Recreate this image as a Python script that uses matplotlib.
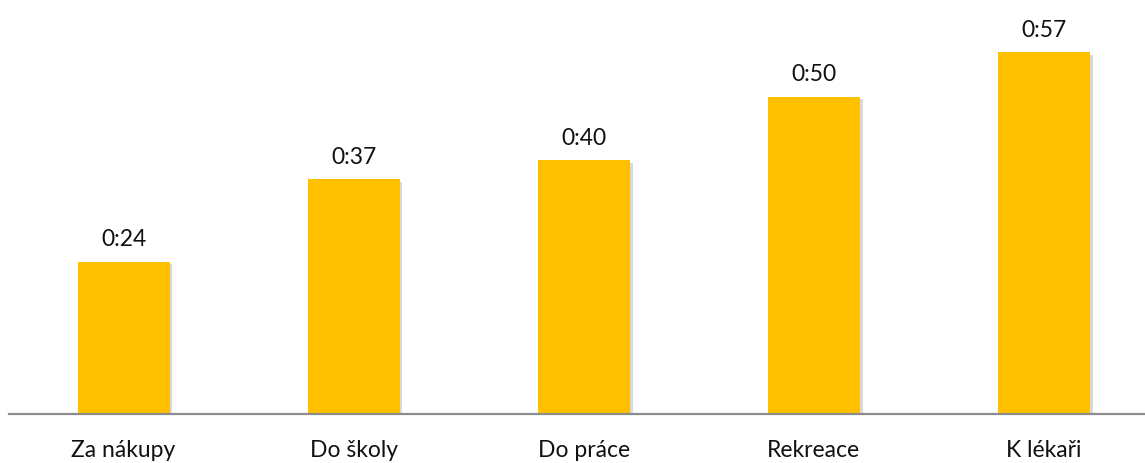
import matplotlib
matplotlib.use("Agg")
import matplotlib.pyplot as plt
import matplotlib.patheffects as pe

categories = ["Za nákupy", "Do školy", "Do práce", "Rekreace", "K lékaři"]
minutes = [24, 37, 40, 50, 57]

plt.rcParams['font.family'] = ['Lato', 'DejaVu Sans']

fig = plt.figure(figsize=(11.45, 4.63), dpi=100)
left = 8.5 / 1145
ax = fig.add_axes([left, 49 / 463, 1 - left, 414 / 463])

x = list(range(len(categories)))
bars = ax.bar(x, minutes, width=0.40, color="#FFC000", zorder=3)
for b in bars:
    b.set_path_effects([pe.SimplePatchShadow(offset=(2, -2), alpha=0.15, shadow_rgbFace="black"),
                        pe.Normal()])

for xi, m in zip(x, minutes):
    ax.annotate(f"0:{m:02d}", (xi, m), xytext=(0, 8), textcoords="offset points",
                ha="center", va="bottom", fontsize=16.5, color="#111111")

# category spacing ~230 px in the reference
ax.set_xlim(-0.5, -0.5 + 1136.5 / 230.1)
ax.set_ylim(0, 65.2)
ax.set_xticks(x)
ax.set_xticklabels(categories, fontsize=16.5, color="#111111")
ax.tick_params(axis="x", length=0, pad=19)
ax.set_yticks([])
for s in ["top", "right", "left"]:
    ax.spines[s].set_visible(False)
ax.spines["bottom"].set_color("#8c8c8c")
ax.spines["bottom"].set_linewidth(1.6)
ax.spines["bottom"].set_zorder(4)

fig.savefig("out.png", dpi=100)
